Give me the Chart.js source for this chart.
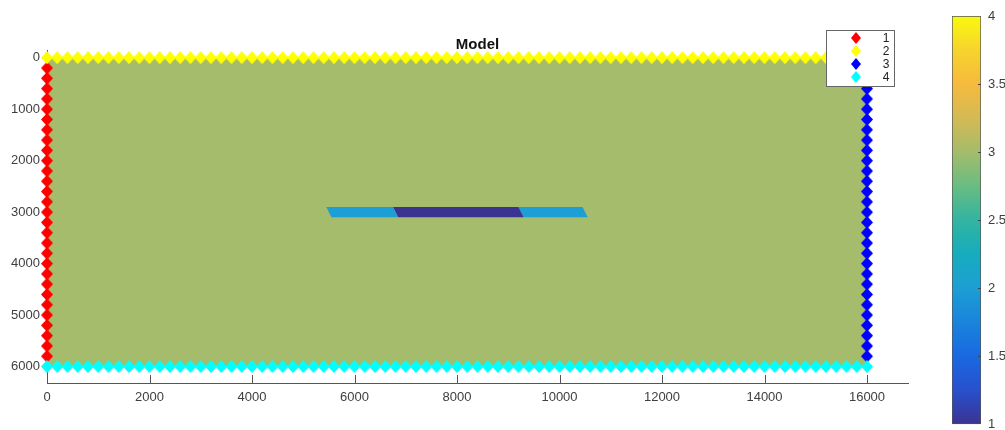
<!DOCTYPE html>
<html lang="en">
<head>
<meta charset="utf-8" />
<script src="https://cdn.jsdelivr.net/npm/chart.js@4"></script>
<style>
  html, body { margin: 0; padding: 0; background: #fff; overflow: hidden; }
  #wrap { position: relative; width: 1005px; height: 430px; overflow: hidden; }
  #main { position: absolute; left: 0; top: 0; }
  #cbar { position: absolute; left: 952px; top: 0; }
</style>
<title>Model</title>
</head>
<body>
<div id="wrap">
  <canvas id="main" width="940" height="430"></canvas>
  <canvas id="cbar" width="53" height="439"></canvas>
</div>

<script>
// axis ticks
const xTicks = [0, 2000, 4000, 6000, 8000, 10000, 12000, 14000, 16000];
const yTicks = [0, 1000, 2000, 3000, 4000, 5000, 6000];
const cbarTicks = [1, 1.5, 2, 2.5, 3, 3.5, 4];

// receiver / source positions along the model edges
const stationX = [
  0, 200, 400, 600, 800, 1000, 1200, 1400, 1600, 1800,
  2000, 2200, 2400, 2600, 2800, 3000, 3200, 3400, 3600, 3800,
  4000, 4200, 4400, 4600, 4800, 5000, 5200, 5400, 5600, 5800,
  6000, 6200, 6400, 6600, 6800, 7000, 7200, 7400, 7600, 7800,
  8000, 8200, 8400, 8600, 8800, 9000, 9200, 9400, 9600, 9800,
  10000, 10200, 10400, 10600, 10800, 11000, 11200, 11400, 11600, 11800,
  12000, 12200, 12400, 12600, 12800, 13000, 13200, 13400, 13600, 13800,
  14000, 14200, 14400, 14600, 14800, 15000, 15200, 15400, 15600, 15800,
  16000
];
const stationDepth = [
  200, 400, 600, 800, 1000, 1200, 1400, 1600, 1800, 2000,
  2200, 2400, 2600, 2800, 3000, 3200, 3400, 3600, 3800, 4000,
  4200, 4400, 4600, 4800, 5000, 5200, 5400, 5600, 5800
];
const leftEdgeX = 0;
const rightEdgeX = 16000;
const topEdgeZ = 0;
const bottomEdgeZ = 6000;
const legendLabels = ["1", "2", "3", "4"];

// model body and the thin layer (x, depth) with values on the colour scale
const modelX = [0, 16000, 16000, 0, 0];
const modelZ = [0, 0, 6000, 6000, 0];
const modelValue = 3;
const layerZ = [2900, 2900, 3100, 3100, 2900];
const layerLeftX = [5450, 6750, 6850, 5550, 5450];
const layerMidX = [6750, 9200, 9300, 6850, 6750];
const layerRightX = [9200, 10450, 10550, 9300, 9200];
const layerValues = [2, 1, 2];

// colour map (value -> colour)
const cmapStops = [
  [1.0, [58, 51, 145]],
  [1.25, [40, 80, 205]],
  [1.5, [25, 105, 225]],
  [1.75, [25, 132, 220]],
  [2.0, [29, 158, 212]],
  [2.25, [22, 172, 190]],
  [2.5, [50, 180, 160]],
  [2.75, [105, 188, 130]],
  [3.0, [164, 188, 107]],
  [3.25, [212, 186, 84]],
  [3.5, [246, 186, 62]],
  [3.75, [246, 212, 44]],
  [4.0, [249, 249, 16]],
];

function colorAt(v) {
  for (let i = 1; i < cmapStops.length; i++) {
    const [v1, c1] = cmapStops[i];
    const [v0, c0] = cmapStops[i - 1];
    if (v <= v1) {
      const t = (v - v0) / (v1 - v0);
      const c = c0.map((a, k) => Math.round(a + (c1[k] - a) * t));
      return "rgb(" + c.join(",") + ")";
    }
  }
  const c = cmapStops[cmapStops.length - 1][1];
  return "rgb(" + c.join(",") + ")";
}

// matlab-like diamond marker
function diamond(color, w, h) {
  const c = document.createElement("canvas");
  c.width = w;
  c.height = h;
  const g = c.getContext("2d");
  g.fillStyle = color;
  g.beginPath();
  g.moveTo(w / 2, 0);
  g.lineTo(w, h / 2);
  g.lineTo(w / 2, h);
  g.lineTo(0, h / 2);
  g.closePath();
  g.fill();
  return c;
}

function polygon(xs, zs, color, order) {
  return {
    data: xs.map((x, i) => ({ x: x, y: zs[i] })),
    showLine: true,
    fill: "shape",
    backgroundColor: color,
    borderColor: "rgba(0,0,0,0)",
    borderWidth: 0,
    pointRadius: 0,
    tension: 0,
    order: order,
  };
}

function markers(points, color, order) {
  return {
    data: points,
    showLine: false,
    pointStyle: diamond(color, 12, 13),
    backgroundColor: color,
    clip: false,
    order: order,
  };
}

const tickFont = { family: "'Liberation Sans', Arial, sans-serif", size: 13 };
const tickColor = "#404040";
const axisColor = "#555";

// inward tick marks like matlab
const inwardTicks = {
  id: "inwardTicks",
  afterDraw(chart, args, opts) {
    const ctx = chart.ctx;
    const area = chart.chartArea;
    const scale = chart.scales[opts.axis];
    ctx.save();
    ctx.strokeStyle = opts.color;
    ctx.lineWidth = 1;
    ctx.beginPath();
    scale.ticks.forEach((t) => {
      if (opts.skip && opts.skip.includes(t.value)) return;
      const p = Math.round(scale.getPixelForValue(t.value)) + 0.5;
      if (opts.axis === "x") {
        ctx.moveTo(p, area.bottom);
        ctx.lineTo(p, area.bottom - opts.length);
      } else {
        ctx.moveTo(area.right, p);
        ctx.lineTo(area.right - opts.length, p);
      }
    });
    ctx.stroke();
    ctx.restore();
  },
};

const titleAndLegend = {
  id: "titleAndLegend",
  afterDraw(chart) {
    const ctx = chart.ctx;
    const area = chart.chartArea;
    ctx.save();
    ctx.fillStyle = "#111";
    ctx.font = "bold 15px 'Liberation Sans', Arial, sans-serif";
    ctx.textAlign = "center";
    ctx.textBaseline = "middle";
    ctx.fillText("Model", (area.left + area.right) / 2, 45);

    // legend box
    const bx = 826.5, by = 30.5, bw = 68, bh = 56;
    ctx.fillStyle = "#fff";
    ctx.fillRect(bx, by, bw, bh);
    ctx.strokeStyle = "#666";
    ctx.lineWidth = 1;
    ctx.strokeRect(bx, by, bw, bh);
    ctx.font = "12px 'Liberation Sans', Arial, sans-serif";
    ctx.fillStyle = "#222";
    const markerSets = chart.data.datasets.filter((d) => d.legendIndex !== undefined);
    markerSets.sort((a, b) => a.legendIndex - b.legendIndex);
    markerSets.forEach((d, i) => {
      const y = 38 + i * 13;
      const img = diamond(d.backgroundColor, 10, 12);
      ctx.drawImage(img, 856 - 5, y - 6);
      ctx.fillText(legendLabels[i], 886, y + 1);
    });
    ctx.restore();
  },
};

const redSet = markers(stationDepth.map((z) => ({ x: leftEdgeX, y: z })), "#ff0000", 4);
redSet.legendIndex = 0;
const yellowSet = markers(stationX.map((x) => ({ x: x, y: topEdgeZ })), "#ffff00", 3);
yellowSet.legendIndex = 1;
const blueSet = markers(stationDepth.map((z) => ({ x: rightEdgeX, y: z })), "#0000ff", 2);
blueSet.legendIndex = 2;
const cyanSet = markers(stationX.map((x) => ({ x: x, y: bottomEdgeZ })), "#00ffff", 1);
cyanSet.legendIndex = 3;

new Chart(document.getElementById("main"), {
  type: "scatter",
  data: {
    datasets: [
      polygon(modelX, modelZ, colorAt(modelValue), 10),
      polygon(layerLeftX, layerZ, colorAt(layerValues[0]), 9),
      polygon(layerMidX, layerZ, colorAt(layerValues[1]), 9),
      polygon(layerRightX, layerZ, colorAt(layerValues[2]), 9),
      redSet,
      yellowSet,
      blueSet,
      cyanSet,
    ],
  },
  options: {
    responsive: false,
    animation: false,
    events: [],
    layout: { padding: { top: 50, right: 32, bottom: 0, left: 0 } },
    plugins: {
      legend: { display: false },
      tooltip: { enabled: false },
      inwardTicks: { axis: "x", length: 8, color: axisColor, skip: [0] },
    },
    scales: {
      x: {
        type: "linear",
        min: 0,
        max: 16800,
        grid: { display: false, drawTicks: false },
        border: { display: true, color: axisColor, width: 1 },
        ticks: {
          font: tickFont,
          color: tickColor,
          padding: 7,
          maxRotation: 0,
          autoSkip: false,
          callback: (v) => String(v),
        },
        afterBuildTicks: (s) => {
          s.ticks = xTicks.map((v) => ({ value: v }));
        },
        afterFit: (s) => {
          s.height = 47;
        },
      },
      y: {
        type: "linear",
        reverse: true,
        min: -150,
        max: 6320,
        grid: { display: false, drawTicks: false },
        border: { display: true, color: axisColor, width: 1 },
        ticks: {
          font: tickFont,
          color: tickColor,
          padding: 7,
          autoSkip: false,
          callback: (v) => String(v),
        },
        afterBuildTicks: (s) => {
          s.ticks = yTicks.map((v) => ({ value: v }));
        },
        afterFit: (s) => {
          s.width = 47;
        },
      },
    },
  },
  plugins: [inwardTicks, titleAndLegend],
});

// colour bar
new Chart(document.getElementById("cbar"), {
  type: "bar",
  data: {
    labels: [""],
    datasets: [
      {
        data: [[cbarTicks[0], cbarTicks[cbarTicks.length - 1]]],
        backgroundColor: (c) => {
          const chart = c.chart;
          if (!chart.chartArea) return null;
          const y = chart.scales.y;
          const vmin = cbarTicks[0];
          const vmax = cbarTicks[cbarTicks.length - 1];
          const g = chart.ctx.createLinearGradient(0, y.getPixelForValue(vmin), 0, y.getPixelForValue(vmax));
          cmapStops.forEach(([v]) => g.addColorStop((v - vmin) / (vmax - vmin), colorAt(v)));
          return g;
        },
        borderColor: axisColor,
        borderWidth: 1,
        borderSkipped: false,
        categoryPercentage: 1,
        barPercentage: 1,
      },
    ],
  },
  options: {
    responsive: false,
    animation: false,
    events: [],
    layout: { padding: { top: 16, right: 0, bottom: 0, left: 0 } },
    plugins: {
      legend: { display: false },
      tooltip: { enabled: false },
      inwardTicks: { axis: "y", length: 3, color: "#444", skip: [1, 4] },
    },
    scales: {
      x: { display: false },
      y: {
        position: "right",
        min: 1,
        max: 4,
        grid: { display: false, drawTicks: false },
        border: { display: false },
        ticks: {
          font: tickFont,
          color: tickColor,
          padding: 7,
          autoSkip: false,
          callback: (v) => String(v),
        },
        afterBuildTicks: (s) => {
          s.ticks = cbarTicks.map((v) => ({ value: v }));
        },
        afterFit: (s) => {
          s.width = 24;
        },
      },
    },
  },
  plugins: [inwardTicks],
});
</script>
</body>
</html>
